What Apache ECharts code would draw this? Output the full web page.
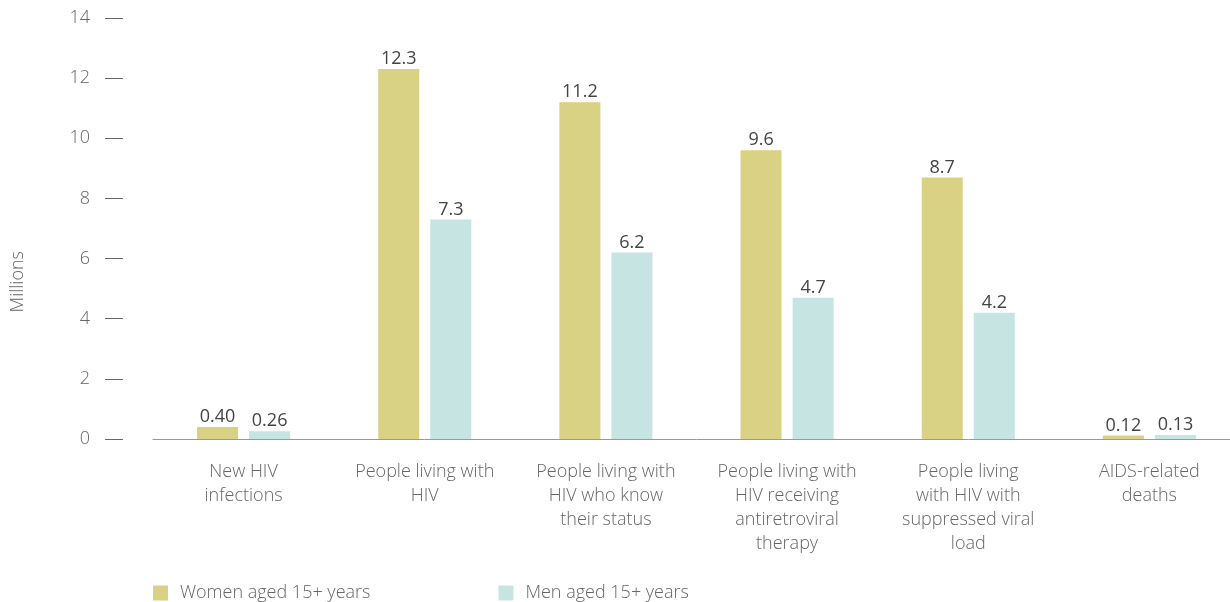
<!DOCTYPE html>
<html><head><meta charset="utf-8">
<script src="https://cdn.jsdelivr.net/npm/echarts@6/dist/echarts.min.js"></script>
<style>html,body{margin:0;padding:0;background:#fff;overflow:hidden;width:1230px;height:602px}#c{width:1240px;height:602px}</style>
</head><body><div id="c"></div>
<script>
const categories = ["New HIV\ninfections","People living with\nHIV","People living with\nHIV who know\ntheir status","People living with\nHIV receiving\nantiretroviral\ntherapy","People living\nwith HIV with\nsuppressed viral\nload","AIDS-related\ndeaths"];
const women = [0.40, 12.3, 11.2, 9.6, 8.7, 0.12];
const men = [0.26, 7.3, 6.2, 4.7, 4.2, 0.13];
const womenLabels = ["0.40","12.3","11.2","9.6","8.7","0.12"];
const menLabels = ["0.26","7.3","6.2","4.7","4.2","0.13"];
const seriesNames = ["Women aged 15+ years","Men aged 15+ years"];

const font = "Open Sans";
const chart = echarts.init(document.getElementById('c'));
chart.setOption({
  animation:false,
  textStyle:{fontFamily:font},
  grid:{left:153,right:0,top:18,height:421},
  legend:{left:148,top:579,itemWidth:15,itemHeight:15,itemGap:128,icon:'rect',
    textStyle:{fontFamily:font,fontSize:18,color:'#666',fontWeight:300,padding:[0,0,0,7]},
    data:seriesNames},
  xAxis:{type:'category',data:categories,
    axisLine:{lineStyle:{color:'#999',width:1}},axisTick:{show:false},
    axisLabel:{interval:0,margin:21,fontSize:18,lineHeight:24,color:'#666',fontFamily:font,fontWeight:300}},
  yAxis:{type:'value',min:0,max:14,interval:2,offset:30,
    axisLine:{show:false},axisTick:{show:true,length:18,lineStyle:{color:'#666',width:1}},splitLine:{show:false},
    axisLabel:{margin:33,fontSize:18,color:'#666',fontFamily:font,fontWeight:300}},
  graphic:[{type:'text',left:9,top:251,rotation:Math.PI/2,
    style:{text:'Millions',fontSize:18,fill:'#666',fontFamily:font,fontWeight:300}}],
  series:[
    {name:seriesNames[0],type:'bar',data:women,barWidth:41,barGap:'27%',
     itemStyle:{color:'#d9d183'},
     label:{show:true,position:'top',distance:1,fontSize:18,color:'#444',fontFamily:font,
       formatter:p=>womenLabels[p.dataIndex]}},
    {name:seriesNames[1],type:'bar',data:men,barWidth:41,
     itemStyle:{color:'#c5e4e2'},
     label:{show:true,position:'top',distance:1,fontSize:18,color:'#444',fontFamily:font,
       formatter:p=>menLabels[p.dataIndex]}}
  ]
});
</script></body></html>
